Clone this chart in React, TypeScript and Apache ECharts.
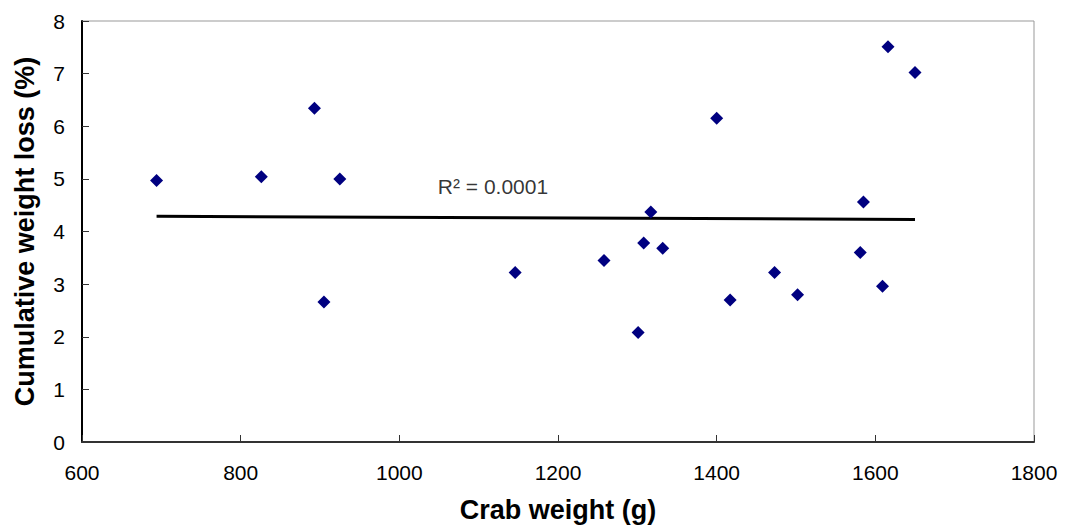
import React, { useEffect, useRef } from "react";
import * as echarts from "echarts";

const crabWeight = [694, 826, 893, 905, 925, 1146, 1258, 1301, 1308, 1317, 1332, 1400, 1417, 1473, 1502, 1581, 1585, 1609, 1616, 1650];
const weightLoss = [4.97, 5.04, 6.34, 2.66, 5.0, 3.22, 3.45, 2.08, 3.78, 4.37, 3.68, 6.15, 2.7, 3.22, 2.8, 3.6, 4.56, 2.96, 7.51, 7.02];
const trendX = [694, 1650];
const trendY = [4.29, 4.23];
const r2Text = "R² = 0.0001";
const r2Anchor = [1118, 4.85];
const xTitle = "Crab weight (g)";
const yTitle = "Cumulative weight loss (%)";

const FONT = "'Liberation Sans', Arial, sans-serif";

export default function App() {
  const ref = useRef<HTMLDivElement>(null);
  useEffect(() => {
    if (!ref.current) return;
    const chart = echarts.init(ref.current, null, { renderer: "svg" });
    chart.setOption({
      animation: false,
      backgroundColor: "#ffffff",
      textStyle: { fontFamily: FONT },
      grid: {
        left: 82,
        right: 32,
        top: 21,
        bottom: 86,
        show: true,
        borderColor: "#999999",
        borderWidth: 1,
      },
      xAxis: {
        type: "value",
        min: 600,
        max: 1800,
        interval: 200,
        name: xTitle,
        nameLocation: "middle",
        nameGap: 54,
        nameTextStyle: { fontFamily: FONT, fontSize: 27, fontWeight: "bold", color: "#000" },
        axisLine: { show: true, lineStyle: { color: "#333333", width: 2 } },
        axisTick: { show: true, inside: true, length: 7, lineStyle: { color: "#333333", width: 1 } },
        axisLabel: {
          fontFamily: FONT,
          fontSize: 21,
          color: "#000",
          margin: 20,
          formatter: (v: number) => String(v),
        },
        splitLine: { show: false },
      },
      yAxis: {
        type: "value",
        min: 0,
        max: 8,
        interval: 1,
        name: yTitle,
        nameLocation: "middle",
        nameGap: 44,
        nameTextStyle: { fontFamily: FONT, fontSize: 27, fontWeight: "bold", color: "#000" },
        axisLine: { show: true, lineStyle: { color: "#000000", width: 2 } },
        axisTick: { show: true, inside: true, length: 7, lineStyle: { color: "#333333", width: 1 } },
        axisLabel: { fontFamily: FONT, fontSize: 21, color: "#000", margin: 17 },
        splitLine: { show: false },
      },
      series: [
        {
          type: "line",
          data: trendX.map((x, i) => [x, trendY[i]]),
          symbol: "none",
          lineStyle: { color: "#000000", width: 3 },
          z: 2,
        },
        {
          type: "scatter",
          data: crabWeight.map((x, i) => [x, weightLoss[i]]),
          symbol: "diamond",
          symbolSize: 13,
          itemStyle: { color: "#000080", opacity: 1 },
          z: 3,
        },
        {
          type: "scatter",
          data: [r2Anchor],
          symbolSize: 0,
          silent: true,
          label: {
            show: true,
            position: "inside",
            formatter: r2Text,
            fontFamily: FONT,
            fontSize: 21,
            color: "#000",
          },
          z: 4,
        },
      ],
    });
    return () => chart.dispose();
  }, []);
  return (
    <div
      ref={ref}
      style={{ position: "fixed", left: 0, top: 0, width: 1066, height: 528 }}
    />
  );
}
